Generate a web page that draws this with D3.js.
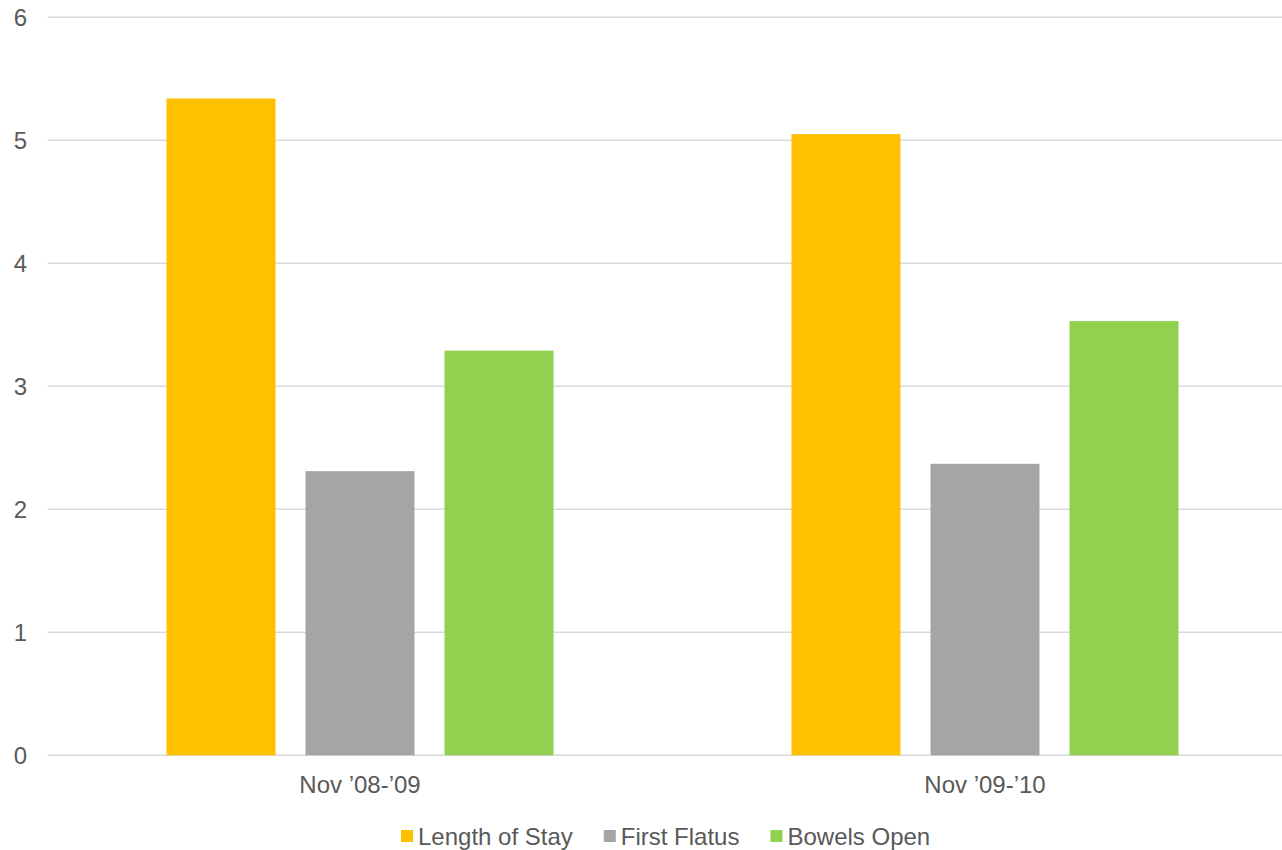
<!DOCTYPE html>
<html>
<head>
<meta charset="utf-8">
<script src="https://cdn.jsdelivr.net/npm/d3@7"></script>
<style>
  body { margin: 0; background: #fff; }
  svg { display: block; font-family: "Liberation Sans", Arial, sans-serif; }
</style>
</head>
<body>
<svg id="chart" width="1282" height="850"></svg>
<script>
const categories = ["Nov \u201908-\u201909", "Nov \u201909-\u201910"];
const seriesNames = ["Length of Stay", "First Flatus", "Bowels Open"];
const lengthOfStay = [5.34, 5.05];
const firstFlatus = [2.31, 2.37];
const bowelsOpen = [3.29, 3.53];
const yTicks = [0, 1, 2, 3, 4, 5, 6];
const colors = ["#FFC000", "#A5A5A5", "#92D050"];

const seriesValues = [lengthOfStay, firstFlatus, bowelsOpen];
const data = categories.map((c, i) => ({
  category: c,
  values: seriesNames.map((s, j) => ({ series: s, value: seriesValues[j][i] }))
}));

const svg = d3.select("#chart");
const textColor = "#595959";

// scales
const x0 = d3.scaleBand().domain(categories).range([47.5, 1297.5]).padding(0);
const x1 = d3.scaleBand()
  .domain(seriesNames)
  .range([0, x0.bandwidth()])
  .paddingInner(0.216)
  .paddingOuter(0.856);
const y = d3.scaleLinear().domain([0, 6]).range([755.3, 17.3]);

// gridlines
svg.append("g")
  .selectAll("line")
  .data(yTicks)
  .enter()
  .append("line")
  .attr("x1", 47.5)
  .attr("x2", 1282)
  .attr("y1", (d) => y(d))
  .attr("y2", (d) => y(d))
  .attr("stroke", "#d9d9d9")
  .attr("stroke-width", 1.5);

// y tick labels
svg.append("g")
  .selectAll("text")
  .data(yTicks)
  .enter()
  .append("text")
  .attr("x", 27)
  .attr("y", (d) => y(d) + 8.5)
  .attr("text-anchor", "end")
  .attr("fill", textColor)
  .style("font-size", "24px")
  .text((d) => d);

// bars
const groups = svg.append("g")
  .selectAll("g")
  .data(data)
  .enter()
  .append("g")
  .attr("transform", (d) => "translate(" + x0(d.category) + ",0)");

groups.selectAll("rect")
  .data((d) => d.values)
  .enter()
  .append("rect")
  .attr("x", (d) => x1(d.series))
  .attr("y", (d) => y(d.value))
  .attr("width", x1.bandwidth())
  .attr("height", (d) => y(0) - y(d.value))
  .attr("fill", (d, i) => colors[i]);

// category labels
svg.append("g")
  .selectAll("text")
  .data(categories)
  .enter()
  .append("text")
  .attr("x", (d) => x0(d) + x0.bandwidth() / 2)
  .attr("y", 792.5)
  .attr("text-anchor", "middle")
  .attr("fill", textColor)
  .style("font-size", "24px")
  .text((d) => d);

// legend
const legend = svg.append("g");
let lx = 401;
seriesNames.forEach((name, i) => {
  legend.append("rect")
    .attr("x", lx)
    .attr("y", 830)
    .attr("width", 12)
    .attr("height", 12)
    .attr("fill", colors[i]);
  const t = legend.append("text")
    .attr("x", lx + 17)
    .attr("y", 845)
    .attr("fill", textColor)
    .style("font-size", "24px")
    .text(name);
  lx += 17 + t.node().getComputedTextLength() + 31;
});
</script>
</body>
</html>
